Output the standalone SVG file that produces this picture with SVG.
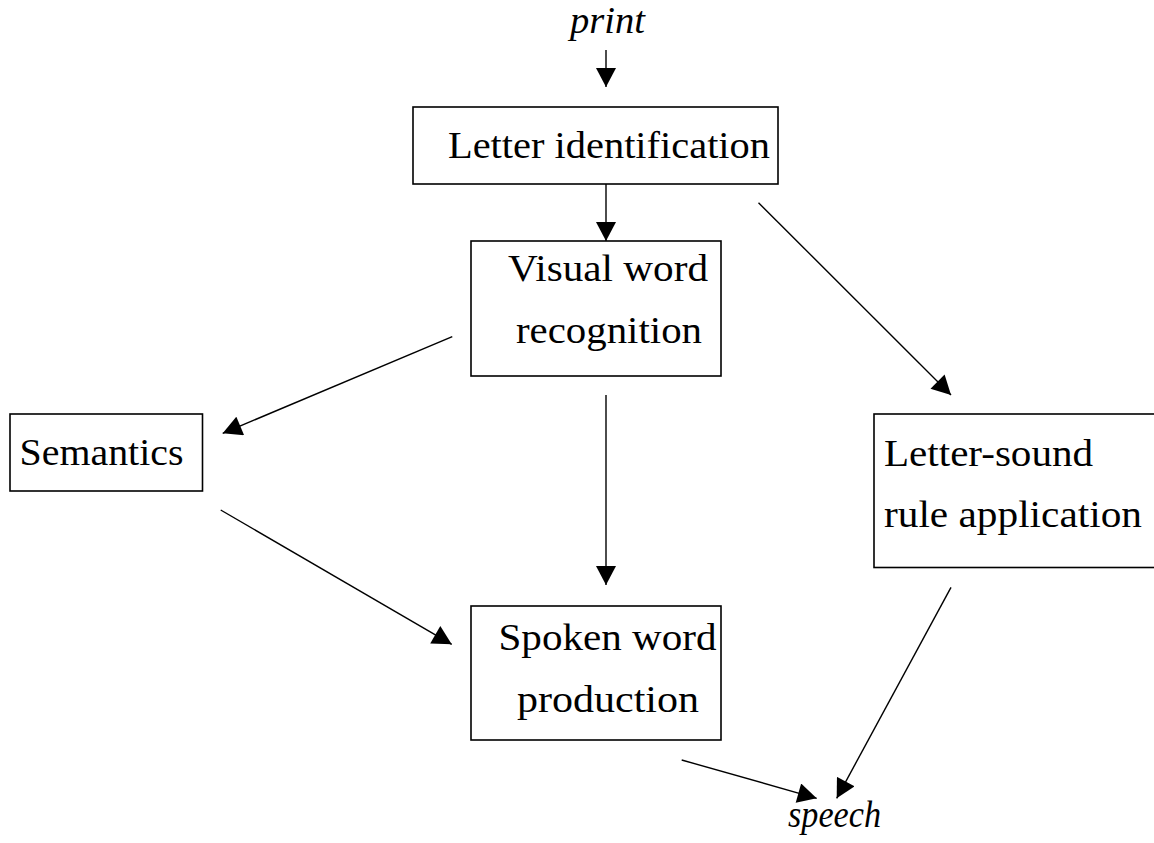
<svg xmlns="http://www.w3.org/2000/svg" width="1154" height="843" viewBox="0 0 1154 843">
<defs>
<style>
.box{fill:#fff;stroke:#000;stroke-width:1.6}
.lbl{font-family:"Liberation Serif","Times New Roman",serif;font-size:38px;fill:#000}
.it{font-style:italic}
.con{stroke:#000;stroke-width:1.4;fill:none;marker-end:url(#ah)}
</style>
<marker id="ah" markerUnits="userSpaceOnUse" markerWidth="20" markerHeight="20" viewBox="0 0 19 20" refX="19" refY="10" orient="auto">
<path d="M0,0 L19,10 L0,20 Z" fill="#000"/>
</marker>
</defs>
<rect width="1154" height="843" fill="#fff"/>
<g id="connectors">
<line class="con" x1="606" y1="50" x2="606" y2="87"/>
<line class="con" x1="606" y1="184" x2="606" y2="241"/>
<line class="con" x1="758.5" y1="202.7" x2="951" y2="395"/>
<line class="con" x1="452.3" y1="336.7" x2="222.7" y2="433.3"/>
<line class="con" x1="606" y1="395" x2="606" y2="585"/>
<line class="con" x1="220.7" y1="510" x2="451.7" y2="644.3"/>
<line class="con" x1="951" y1="587.3" x2="836.7" y2="798.3"/>
<line class="con" x1="681.7" y1="760" x2="816.7" y2="798.3"/>
</g>
<g id="print">
<text class="lbl it" x="570" y="33" textLength="75" lengthAdjust="spacingAndGlyphs">print</text>
</g>
<g id="letter-identification">
<rect class="box" x="413" y="107" width="365" height="77"/>
<text class="lbl" x="448" y="158" textLength="322" lengthAdjust="spacingAndGlyphs">Letter identification</text>
</g>
<g id="visual-word-recognition">
<rect class="box" x="471" y="241" width="250" height="135"/>
<text class="lbl" x="508" y="281" textLength="200" lengthAdjust="spacingAndGlyphs">Visual word</text>
<text class="lbl" x="516" y="343" textLength="186" lengthAdjust="spacingAndGlyphs">recognition</text>
</g>
<g id="semantics">
<rect class="box" x="10" y="414" width="192.5" height="77"/>
<text class="lbl" x="19.5" y="465" textLength="164" lengthAdjust="spacingAndGlyphs">Semantics</text>
</g>
<g id="letter-sound-rule-application">
<rect class="box" x="874" y="414" width="290" height="153.5"/>
<text class="lbl" x="884" y="466" textLength="209" lengthAdjust="spacingAndGlyphs">Letter-sound</text>
<text class="lbl" x="884" y="527" textLength="258" lengthAdjust="spacingAndGlyphs">rule application</text>
</g>
<g id="spoken-word-production">
<rect class="box" x="471" y="606" width="250" height="134"/>
<text class="lbl" x="498.5" y="650" textLength="218" lengthAdjust="spacingAndGlyphs">Spoken word</text>
<text class="lbl" x="517" y="712" textLength="182" lengthAdjust="spacingAndGlyphs">production</text>
</g>
<g id="speech">
<text class="lbl it" x="788" y="827" textLength="93" lengthAdjust="spacingAndGlyphs">speech</text>
</g>
</svg>
